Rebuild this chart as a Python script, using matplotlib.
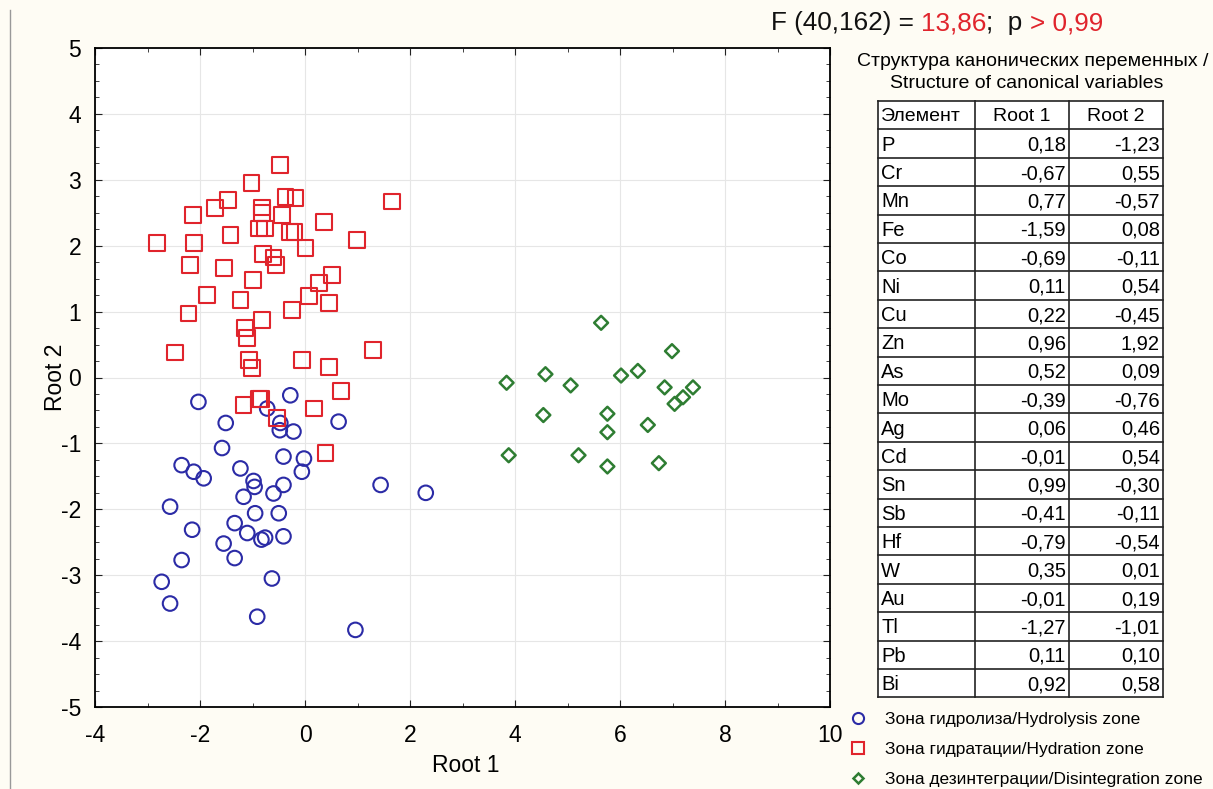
import matplotlib.pyplot as plt
from matplotlib.ticker import MultipleLocator
from matplotlib.lines import Line2D

plt.rcParams["font.family"] = ["Liberation Sans", "DejaVu Sans"]
plt.rcParams["axes.unicode_minus"] = False

# canonical scores, root 1 / root 2
hydro_x = [-2.03, -0.28, -0.72, -1.51, -0.47, -0.48, -0.22, 0.64, -1.58, -2.35,
           -2.12, -1.93, -1.23, -0.41, -0.02, -0.06, -0.98, -0.96, -0.41, -0.60,
           -1.17, 1.44, 2.30, -2.57, -0.95, -0.50, -1.34, -2.15, -1.10, -0.83,
           -0.76, -0.41, -1.55, -2.35, -1.34, -0.63, -2.73, -2.57, -0.91, 0.96]
hydro_y = [-0.37, -0.27, -0.47, -0.69, -0.69, -0.80, -0.82, -0.67, -1.07, -1.33,
           -1.43, -1.53, -1.38, -1.20, -1.23, -1.43, -1.57, -1.66, -1.63, -1.76,
           -1.81, -1.63, -1.75, -1.96, -2.06, -2.06, -2.21, -2.31, -2.36, -2.46,
           -2.43, -2.41, -2.52, -2.77, -2.74, -3.05, -3.10, -3.43, -3.63, -3.83]

hydr_x = [-0.47, -1.02, -1.46, -0.37, -0.18, 1.65, -1.71, -2.14, -0.82, -0.82,
          -0.44, 0.36, -0.88, -0.76, -0.28, -0.20, -1.42, -2.82, -2.12, 0.99,
          0.01, -0.80, -0.60, -0.56, -2.19, -1.55, -0.99, 0.51, 0.26, 0.07,
          -1.87, -1.23, 0.45, -0.25, -2.22, -0.82, -1.14, -1.10, -2.47, 1.30,
          -1.07, -0.06, -1.01, 0.45, 0.68, -1.17, -0.88, -0.84, -0.53, 0.17, 0.39]
hydr_y = [3.22, 2.95, 2.69, 2.74, 2.72, 2.67, 2.57, 2.47, 2.58, 2.49,
          2.47, 2.36, 2.26, 2.26, 2.21, 2.21, 2.16, 2.04, 2.04, 2.09,
          1.96, 1.88, 1.82, 1.71, 1.71, 1.66, 1.48, 1.56, 1.43, 1.24,
          1.25, 1.18, 1.13, 1.02, 0.97, 0.87, 0.75, 0.60, 0.38, 0.42,
          0.27, 0.27, 0.14, 0.16, -0.21, -0.42, -0.32, -0.32, -0.62, -0.47, -1.15]

disint_x = [5.64, 6.99, 4.58, 6.34, 6.02, 3.84, 5.06, 6.85, 7.39, 7.20,
            7.04, 4.54, 5.76, 5.76, 6.53, 3.88, 5.21, 5.76, 6.74]
disint_y = [0.83, 0.40, 0.05, 0.10, 0.03, -0.08, -0.12, -0.15, -0.15, -0.30,
            -0.40, -0.57, -0.55, -0.83, -0.72, -1.18, -1.18, -1.35, -1.30]

elements = ["P", "Cr", "Mn", "Fe", "Co", "Ni", "Cu", "Zn", "As", "Mo",
            "Ag", "Cd", "Sn", "Sb", "Hf", "W", "Au", "Tl", "Pb", "Bi"]
root1 = ["0,18", "-0,67", "0,77", "-1,59", "-0,69", "0,11", "0,22", "0,96", "0,52", "-0,39",
         "0,06", "-0,01", "0,99", "-0,41", "-0,79", "0,35", "-0,01", "-1,27", "0,11", "0,92"]
root2 = ["-1,23", "0,55", "-0,57", "0,08", "-0,11", "0,54", "-0,45", "1,92", "0,09", "-0,76",
         "0,46", "0,54", "-0,30", "-0,11", "-0,54", "0,01", "0,19", "-1,01", "0,10", "0,58"]

labels = ["Зона гидролиза/Hydrolysis zone",
          "Зона гидратации/Hydration zone",
          "Зона дезинтеграции/Disintegration zone"]

bg = "#fefcf4"
fig = plt.figure(figsize=(12.13, 7.89), dpi=100, facecolor=bg)
ax = fig.add_axes([95 / 1213, 1 - 707 / 789, 735 / 1213, 659 / 789])
ax.set_facecolor("white")

ax.scatter(hydro_x, hydro_y, s=110, facecolors="none", edgecolors="#2b2ba6", linewidths=1.5, marker="o", zorder=3)
ax.scatter(hydr_x, hydr_y, s=130, facecolors="none", edgecolors="#e0242c", linewidths=1.5, marker="s", zorder=3)
ax.scatter(disint_x, disint_y, s=50, facecolors="none", edgecolors="#2e7d32", linewidths=1.8, marker="D", zorder=3)

ax.set_xlim(-4, 10)
ax.set_ylim(-5, 5)
ax.xaxis.set_major_locator(MultipleLocator(2))
ax.xaxis.set_minor_locator(MultipleLocator(1))
ax.yaxis.set_major_locator(MultipleLocator(1))
ax.yaxis.set_minor_locator(MultipleLocator(0.25))
ax.tick_params(which="both", direction="in", top=True, right=True, labelsize=16.5, color="#222", pad=10)
ax.tick_params(axis="x", which="both", pad=12)
ax.tick_params(which="major", length=5)
ax.tick_params(which="minor", length=3)
ax.grid(True, which="major", color="#e6e6e6", linewidth=0.8)
ax.set_axisbelow(True)
for sp in ax.spines.values():
    sp.set_linewidth(1.3)
ax.set_xlabel("Root 1", fontsize=16.5)
ax.xaxis.set_label_coords(0.505, -0.072)
ax.set_ylabel("Root 2", fontsize=16.5)
ax.yaxis.set_label_coords(-0.038, 0.5)

# F statistic, values in red
r = fig.canvas.get_renderer()
parts = [("F (40,162) = ", "#111"), ("13,86", "#e0242c"), (";  p ", "#111"), ("> 0,99", "#e0242c")]
x0 = 771
for txt, col in parts:
    tt = fig.text(x0 / 1213, 1 - 23 / 789, txt, fontsize=18.8, va="center", ha="left", color=col)
    x0 += tt.get_window_extent(r).width

fig.text(1033 / 1213, 1 - 61 / 789, "Структура канонических переменных /", fontsize=14, ha="center", va="center")
fig.text(1027 / 1213, 1 - 83 / 789, "Structure of canonical variables", fontsize=14, ha="center", va="center")

# table of canonical structure
cols = [878, 975, 1069, 1163]
top, rh = 101, 28.4
rows = [["Элемент", "Root 1", "Root 2"]] + [[e, a, b] for e, a, b in zip(elements, root1, root2)]
tab = fig.add_axes([0, 0, 1, 1], facecolor="none")
tab.set_xlim(0, 1213)
tab.set_ylim(789, 0)
tab.axis("off")
tab.add_patch(plt.Rectangle((cols[0], top), cols[-1] - cols[0], rh * len(rows), facecolor="white", edgecolor="none"))
for i in range(len(rows) + 1):
    tab.plot([cols[0], cols[-1]], [top + i * rh] * 2, color="#222", lw=1.2)
for c in cols:
    tab.plot([c, c], [top, top + rh * len(rows)], color="#222", lw=1.2)
for i, row in enumerate(rows):
    yc = top + (i + 0.5) * rh + 1.5
    if i == 0:
        tab.text(cols[0] + 3, yc, row[0], fontsize=14, va="center", ha="left")
        tab.text((cols[1] + cols[2]) / 2, yc, row[1], fontsize=14, va="center", ha="center")
        tab.text((cols[2] + cols[3]) / 2, yc, row[2], fontsize=14, va="center", ha="center")
    else:
        tab.text(cols[0] + 3, yc, row[0], fontsize=14.5, va="center", ha="left")
        tab.text(cols[2] - 3, yc, row[1], fontsize=14.5, va="center", ha="right")
        tab.text(cols[3] - 3, yc, row[2], fontsize=14.5, va="center", ha="right")

# legend
handles = [
    Line2D([], [], ls="none", marker="o", ms=8, mfc="none", mec="#2b2ba6", mew=1.5),
    Line2D([], [], ls="none", marker="s", ms=8, mfc="none", mec="#e0242c", mew=1.5),
    Line2D([], [], ls="none", marker="D", ms=5.5, mfc="none", mec="#2e7d32", mew=1.8),
]
fig.legend(handles, labels, loc="upper left", bbox_to_anchor=(849 / 1213, 1 - 712 / 789),
           frameon=False, fontsize=12.5, handlelength=1, handletextpad=1.1, labelspacing=0.85,
           borderaxespad=0, borderpad=0)

# left page border
fig.add_artist(Line2D([10 / 1213, 10 / 1213], [0, 1 - 10 / 789], color="#999", lw=1))

fig.savefig("out.png", dpi=100, facecolor=bg)
